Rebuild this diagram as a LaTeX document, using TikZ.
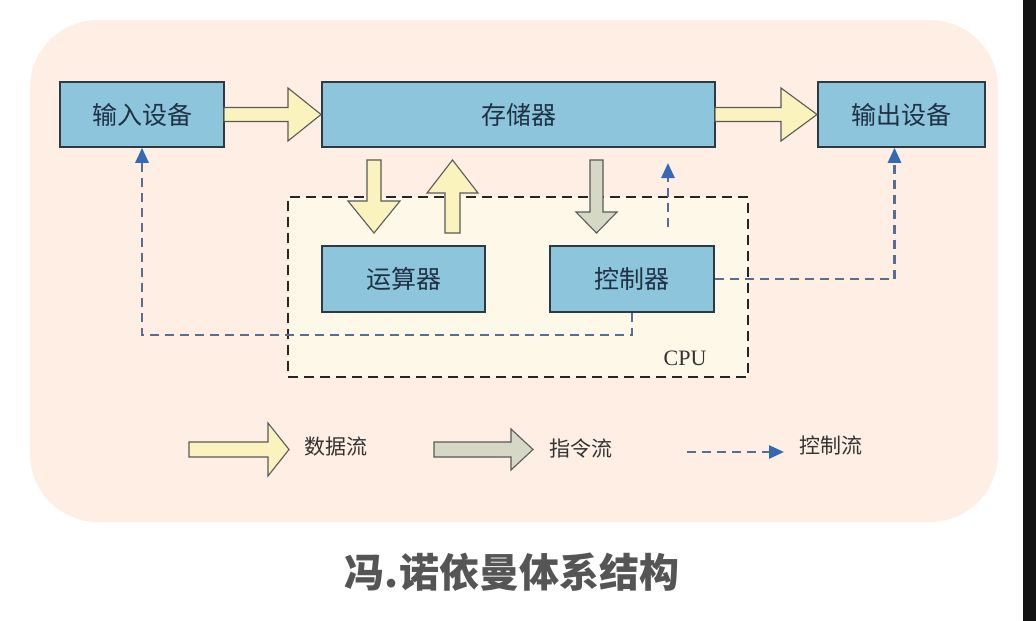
\documentclass[tikz,border=0pt]{standalone}
\usepackage{fontspec}
\setmainfont{Liberation Serif}
\newfontfamily\cjk{Noto Sans CJK SC}
\usetikzlibrary{arrows.meta}
\definecolor{peach}{RGB}{254,238,227}
\definecolor{cpufill}{RGB}{253,248,231}
\definecolor{boxblue}{RGB}{141,197,220}
\definecolor{boxline}{RGB}{47,57,64}
\definecolor{boxtext}{RGB}{31,50,68}
\definecolor{datay}{RGB}{250,243,190}
\definecolor{instg}{RGB}{214,216,198}
\definecolor{ctrlline}{RGB}{88,108,150}
\definecolor{tipblue}{RGB}{52,105,180}
\definecolor{titlegray}{RGB}{85,85,85}
\tikzset{
  unitbox/.style={draw=boxline, line width=1.6pt, fill=boxblue, text=boxtext,
    font=\cjk\fontsize{25}{28}\selectfont, inner sep=0pt},
  fatdata/.style={draw=black!65, line width=1.1pt, fill=datay, line join=miter},
  fatinst/.style={draw=black!65, line width=1.1pt, fill=instg, line join=miter},
  ctrlflow/.style={draw=ctrlline, line width=2.8pt, dash pattern=on 9pt off 6pt,
    -{Triangle[length=15pt,width=13pt,color=tipblue]}},
  legendtext/.style={font=\cjk\fontsize{21}{24}\selectfont, text=black!80, anchor=west, inner sep=0pt},
}
\begin{document}
\begin{tikzpicture}[x=1pt,y=-1pt]
\useasboundingbox (0,0) rectangle (1036,621);
% background
\fill[peach, rounded corners=68pt] (30,20) rectangle (998,522);
\fill[black!93] (1023,0) rectangle (1036,621);
% CPU box
\node[draw=black!85, line width=1.5pt, dash pattern=on 10pt off 6pt, fill=cpufill,
  minimum width=460pt, minimum height=180pt, inner sep=0pt] (cpu) at (518,287) {};
\node[font=\fontsize{22}{24}\selectfont, text=black!80, inner sep=0pt] (cpulabel) at (685,358) {CPU};
% units
\node[unitbox, minimum width=164pt, minimum height=65pt] (in) at (142,114.5) {输入设备};
\node[unitbox, minimum width=393pt, minimum height=65pt] (mem) at (518.5,114.5) {存储器};
\node[unitbox, minimum width=167pt, minimum height=65pt] (out) at (901.5,114.5) {输出设备};
\node[unitbox, minimum width=163pt, minimum height=66pt] (alu) at (403.5,279) {运算器};
\node[unitbox, minimum width=164pt, minimum height=66pt] (ctrl) at (632,279) {控制器};
% data flow arrows
\draw[fatdata] (224,107.5) -- (288,107.5) -- (288,88) -- (321,114.5) -- (288,141) -- (288,121.5) -- (224,121.5) -- cycle;
\draw[fatdata] (715,107.5) -- (781,107.5) -- (781,88) -- (817,114.5) -- (781,141) -- (781,121.5) -- (715,121.5) -- cycle;
\draw[fatdata] (367,160) -- (381,160) -- (381,201) -- (400,201) -- (374,233) -- (348,201) -- (367,201) -- cycle;
\draw[fatdata] (445,233) -- (460,233) -- (460,193) -- (478,193) -- (452.5,160) -- (427,193) -- (445,193) -- cycle;
% instruction flow arrow
\draw[fatinst] (590,160) -- (603,160) -- (603,212) -- (617,212) -- (596.5,233) -- (576,212) -- (590,212) -- cycle;
% control flows
\draw[ctrlflow] (ctrl.south) |- (142,335) -- (in.south);
\draw[ctrlflow] (ctrl.east) -| ([xshift=-7pt]out.south);
\coordinate (cs) at (668,227);
\coordinate (ce) at (668,163);
\draw[ctrlflow] (cs) -- (ce);
% legend
\draw[fatdata] (189,442) -- (268,442) -- (268,423) -- (289,449.5) -- (268,476) -- (268,457) -- (189,457) -- cycle;
\node[legendtext] (l1) at (304,447) {数据流};
\draw[fatinst] (434,442) -- (511,442) -- (511,429) -- (533,449.5) -- (511,470) -- (511,457) -- (434,457) -- cycle;
\node[legendtext] (l2) at (549,449) {指令流};
\coordinate (lc1) at (687,452);
\coordinate (lc2) at (784,452);
\draw[ctrlflow] (lc1) -- (lc2);
\node[legendtext] (l3) at (799,445) {控制流};
% title
\node[font=\cjk\bfseries\fontsize{40}{44}\selectfont, text=titlegray, inner sep=0pt] (title) at (512,572) {冯.诺依曼体系结构};
\end{tikzpicture}
\end{document}
